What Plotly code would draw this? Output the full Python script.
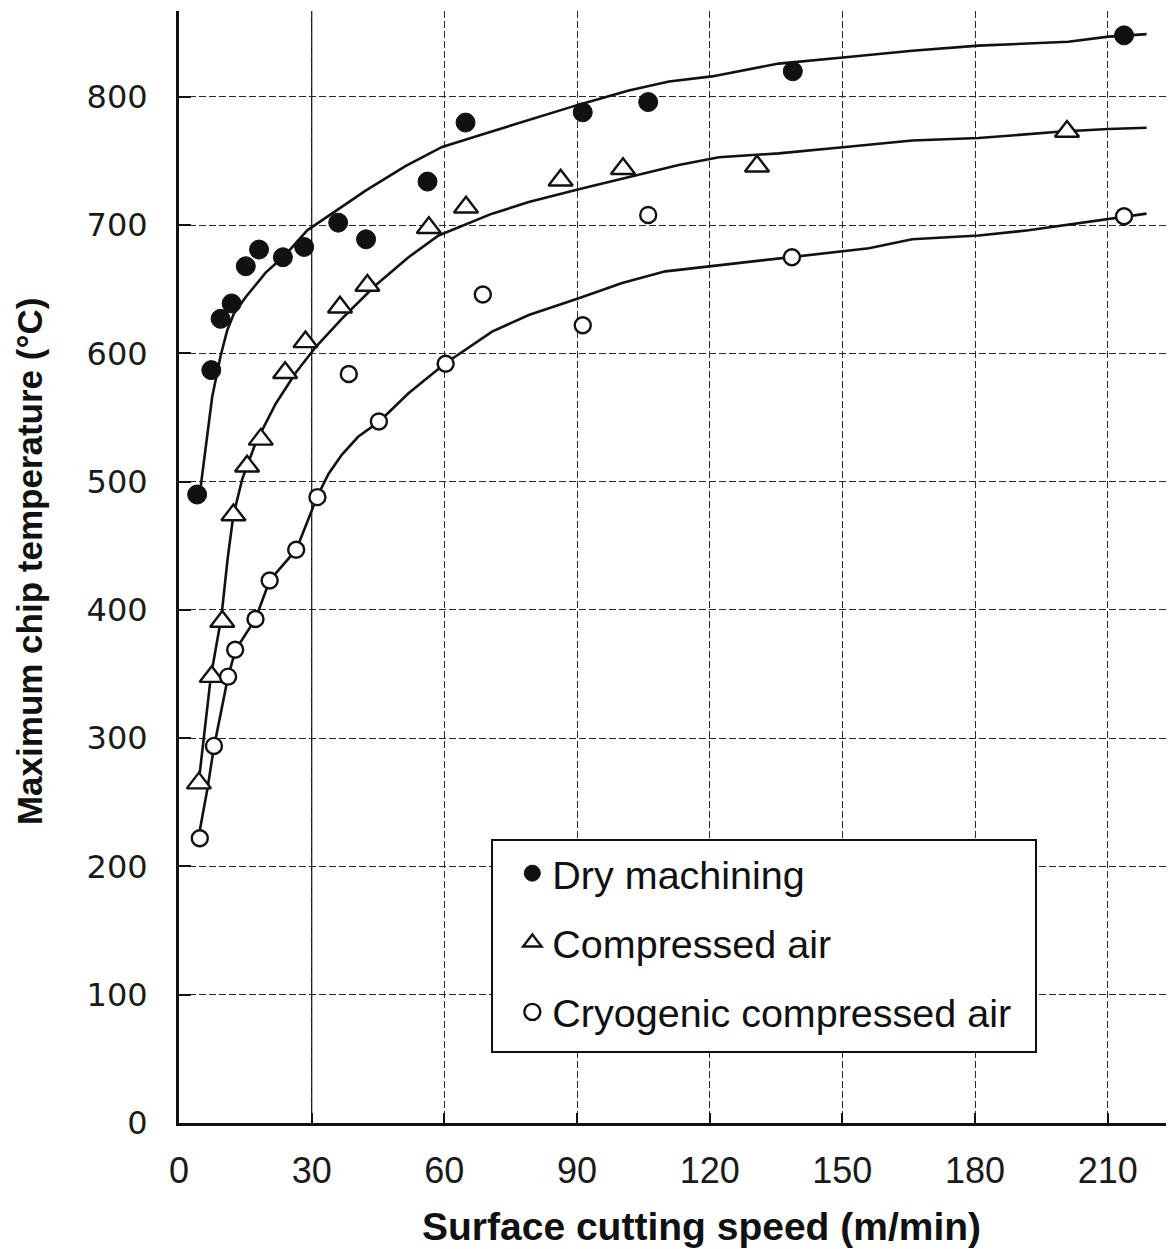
import plotly.graph_objects as go

# ---------------- data ----------------
dry_x = [4.1, 7.3, 9.4, 11.9, 15.1, 18.1, 23.5, 28.3, 36.0, 42.3, 56.2, 64.8, 91.3, 106.1, 138.8, 213.7]
dry_y = [490, 587, 627, 639, 668, 681, 675, 683, 702, 689, 734, 780, 788, 796, 820, 848]

air_x = [4.5, 7.4, 9.8, 12.3, 15.4, 18.5, 24.0, 28.6, 36.4, 42.6, 56.5, 64.9, 86.3, 100.4, 130.7, 200.8]
air_y = [265, 348, 391, 474, 512, 533, 585, 609, 636, 653, 698, 714, 735, 744, 746, 773]

cryo_x = [4.7, 7.9, 11.1, 12.7, 17.3, 20.5, 26.5, 31.3, 38.4, 45.2, 60.3, 68.7, 91.3, 106.1, 138.6, 213.7]
cryo_y = [222, 294, 348, 369, 393, 423, 447, 488, 584, 547, 592, 646, 622, 708, 675, 707]

# fitted curves
dry_fit_x = [4.9, 7.5, 9.4, 10.9, 12.4, 15.1, 19.6, 24.1, 29.0, 39.1, 42.2, 51.2, 59.5, 67.8, 79.1,
             90.4, 101.7, 110.8, 120.5, 135.6, 150.7, 165.8, 180.8, 201.1, 210.2, 218.8]
dry_fit_y = [496, 566, 598, 618, 631, 644, 663, 677, 696, 720, 727, 746, 761, 770, 782,
             794, 805, 812, 816, 826, 831, 836, 840, 843, 847, 849]

air_fit_x = [4.7, 7.2, 9.6, 11.0, 12.3, 14.3, 17.3, 21.9, 26.4, 30.9, 36.8, 44.4, 51.9, 58.7,
             70.8, 79.1, 90.4, 103.2, 113.0, 122.1, 135.6, 150.7, 165.8, 180.8, 199.6, 210.2, 218.8]
air_fit_y = [273, 348, 395, 440, 474, 502, 530, 561, 585, 605, 627, 653, 675, 692,
             709, 718, 728, 739, 747, 753, 756, 761, 766, 768, 773, 775, 776]

cryo_fit_x = [4.7, 6.4, 7.9, 9.8, 11.1, 12.8, 17.3, 20.5, 26.5, 28.6, 31.2, 33.8, 36.8, 40.5, 45.3, 51.9,
              60.1, 70.8, 79.1, 90.4, 100.2, 110.0, 120.5, 138.6, 156.0, 165.8, 180.8, 192.1, 210.2, 218.8]
cryo_fit_y = [228, 260, 293, 325, 348, 369, 393, 423, 447, 465, 488, 506, 521, 535, 547, 569,
              592, 617, 630, 643, 655, 664, 668, 675, 682, 689, 692, 696, 705, 709]

series_names = ["Dry machining", "Compressed air", "Cryogenic compressed air"]
x_ticks = [0, 30, 60, 90, 120, 150, 180, 210]
y_ticks = [0, 100, 200, 300, 400, 500, 600, 700, 800]
x_range = [0, 225.0]
y_range = [0, 867]
solid_grid_x = 30

x_title = "Surface cutting speed (m/min)"
y_title = "Maximum chip temperature (°C)"

INK = "#111111"

# ---------------- figure ----------------
fig = go.Figure()

for fx, fy in [(dry_fit_x, dry_fit_y), (air_fit_x, air_fit_y), (cryo_fit_x, cryo_fit_y)]:
    fig.add_trace(go.Scatter(x=fx, y=fy, mode="lines", line=dict(color=INK, width=2.6),
                             showlegend=False, hoverinfo="skip"))

fig.add_trace(go.Scatter(
    x=dry_x, y=dry_y, mode="markers", name=series_names[0], legendgroup="a",
    marker=dict(symbol="circle", size=19, color=INK, line=dict(color=INK, width=1))))
fig.add_trace(go.Scatter(
    x=air_x, y=air_y, mode="markers", name=series_names[1], legendgroup="b",
    marker=dict(symbol="triangle-up", size=21, color="white", line=dict(color=INK, width=2.4))))
fig.add_trace(go.Scatter(
    x=cryo_x, y=cryo_y, mode="markers", name=series_names[2], legendgroup="c",
    marker=dict(symbol="circle", size=16, color="white", line=dict(color=INK, width=2.4))))

# solid vertical grid line
fig.add_shape(type="line", xref="x", yref="paper", x0=solid_grid_x, x1=solid_grid_x, y0=0, y1=1,
              line=dict(color=INK, width=1.3), layer="below")
# legend frame
fig.add_shape(type="rect", xref="paper", yref="paper", x0=0.3146, x1=0.8613, y0=0.0638, y1=0.2545,
              line=dict(color=INK, width=2), fillcolor="white", layer="above")

grid_dash = "7px,3px"
fig.update_xaxes(
    range=x_range, tickvals=x_ticks, ticktext=[str(v) for v in x_ticks],
    showline=True, linecolor=INK, linewidth=3,
    ticks="inside", ticklen=10, tickwidth=2, tickcolor=INK,
    showgrid=True, gridcolor="#2a2a2a", gridwidth=1.3, griddash=grid_dash,
    zeroline=False, ticklabelstandoff=14,
    tickfont=dict(family="Liberation Sans", size=36, color="#1a1a1a"),
)
fig.update_yaxes(
    range=y_range, tickvals=y_ticks, ticktext=[str(v) for v in y_ticks],
    showline=True, linecolor=INK, linewidth=3,
    ticks="inside", ticklen=12, tickwidth=2, tickcolor=INK,
    showgrid=True, gridcolor="#2a2a2a", gridwidth=1.3, griddash=grid_dash,
    zeroline=False, ticklabelstandoff=22,
    tickfont=dict(family="DejaVu Sans", size=32, color="#1a1a1a"),
)

fig.add_annotation(text=x_title, xref="paper", yref="paper", x=0.5256, y=-0.0935,
                   xanchor="center", yanchor="middle", showarrow=False,
                   font=dict(family="Liberation Sans", size=39, color=INK, weight="bold"))
fig.add_annotation(text=y_title, xref="paper", yref="paper", x=-0.1497, y=0.5045,
                   xanchor="center", yanchor="middle", showarrow=False, textangle=-90,
                   font=dict(family="Liberation Sans", size=35, color=INK, weight="bold"))

fig.update_layout(
    width=1174, height=1249,
    margin=dict(l=171, r=8, t=3, b=134, autoexpand=False),
    paper_bgcolor="white", plot_bgcolor="white",
    legend=dict(
        x=0.335, y=0.2536, xanchor="left", yanchor="top",
        bgcolor="rgba(0,0,0,0)", borderwidth=0,
        font=dict(family="Liberation Sans", size=39.5, color=INK),
        tracegroupgap=15, itemwidth=30,
    ),
)

fig.write_html("out.html")
